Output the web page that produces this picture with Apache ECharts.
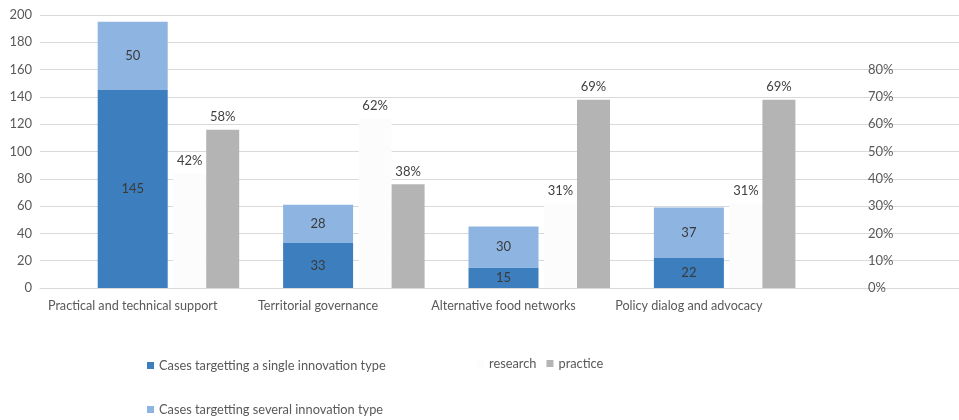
<!DOCTYPE html>
<html>
<head>
<meta charset="utf-8">
<script src="https://cdn.jsdelivr.net/npm/echarts@6/dist/echarts.min.js"></script>
<style>html,body{margin:0;padding:0;background:#fff}#c{width:959px;height:420px}</style>
</head>
<body>
<div id="c"></div>
<script>
const categories = ['Practical and technical support', 'Territorial governance', 'Alternative food networks', 'Policy dialog and advocacy'];
const singleType = [145, 33, 15, 22];
const severalTypes = [50, 28, 30, 37];
const research = [0.42, 0.62, 0.31, 0.31];
const practice = [0.58, 0.38, 0.69, 0.69];
const leftTicks = {min: 0, max: 200, interval: 20};
const rightTicks = {min: 0, max: 1, interval: 0.1, shownMax: 0.8};

const FONT = 'Lato';
const TXT = '#595959';
const axisCats = categories.concat(['']);
const pct = v => Math.round(v * 100) + '%';
const NAME1 = 'Cases targetting a single innovation type';
const NAME2 = 'Cases targetting several innovation type';

function legendAt(names, left, top, gap) {
  return {
    data: names, orient: 'horizontal', left: left, top: top, padding: 0,
    itemWidth: 7, itemHeight: 7, itemGap: gap, icon: 'rect',
    textStyle: {fontFamily: FONT, fontSize: 12.8, color: TXT}
  };
}

const chart = echarts.init(document.getElementById('c'), null, {renderer: 'canvas'});
chart.setOption({
  animation: false,
  backgroundColor: '#ffffff',
  textStyle: {fontFamily: FONT, color: TXT},
  grid: [
    {left: 40, width: 927, top: 15, bottom: 132, containLabel: false, outerBoundsMode: 'none'},
    {left: 113.5, width: 927, top: 15, bottom: 132, containLabel: false, outerBoundsMode: 'none'}
  ],
  legend: [
    legendAt([NAME1], 147, 359, 10),
    legendAt([NAME2], 147, 403, 10),
    legendAt(['research', 'practice'], 477, 357, 10)
  ],
  xAxis: [
    {
      type: 'category', gridIndex: 0, data: axisCats,
      axisLine: {show: true, lineStyle: {color: '#d9d9d9'}}, axisTick: {show: false},
      axisLabel: {fontFamily: FONT, fontSize: 12.6, color: TXT, margin: 11, interval: 0}
    },
    {
      type: 'category', gridIndex: 1, data: axisCats, show: false
    }
  ],
  yAxis: [
    {
      type: 'value', gridIndex: 0, min: leftTicks.min, max: leftTicks.max, interval: leftTicks.interval,
      axisLine: {show: false}, axisTick: {show: false},
      splitLine: {lineStyle: {color: '#d9d9d9'}},
      axisLabel: {fontFamily: FONT, fontSize: 13, color: TXT, margin: 8}
    },
    {
      type: 'value', gridIndex: 1, position: 'right', offset: -180.5,
      min: rightTicks.min, max: rightTicks.max, interval: rightTicks.interval,
      axisLine: {show: false}, axisTick: {show: false}, splitLine: {show: false},
      axisLabel: {fontFamily: FONT, fontSize: 13, color: TXT, margin: 8,
        formatter: v => (v <= rightTicks.shownMax + 1e-9 ? pct(v) : '')}
    }
  ],
  series: [
    {
      name: NAME1, type: 'bar', stack: 'cases',
      xAxisIndex: 0, yAxisIndex: 0, barWidth: 70, data: singleType,
      itemStyle: {color: '#3d7ebf'},
      label: {show: true, position: 'inside', color: '#3a3a3a', fontFamily: FONT, fontSize: 13}
    },
    {
      name: NAME2, type: 'bar', stack: 'cases',
      xAxisIndex: 0, yAxisIndex: 0, barWidth: 70, data: severalTypes,
      itemStyle: {color: '#8eb4e1'},
      label: {show: true, position: 'inside', color: '#3a3a3a', fontFamily: FONT, fontSize: 13}
    },
    {
      name: 'research', type: 'bar', xAxisIndex: 1, yAxisIndex: 1, barWidth: 33, barGap: '0%',
      data: research, itemStyle: {color: '#fcfcfc'},
      label: {show: true, position: 'top', distance: 6, color: '#404040', fontFamily: FONT, fontSize: 13, formatter: p => pct(p.value)}
    },
    {
      name: 'practice', type: 'bar', xAxisIndex: 1, yAxisIndex: 1, barWidth: 33, barGap: '0%',
      data: practice, itemStyle: {color: '#b4b4b4'},
      label: {show: true, position: 'top', distance: 6, color: '#404040', fontFamily: FONT, fontSize: 13, formatter: p => pct(p.value)}
    }
  ]
});
</script>
</body>
</html>
